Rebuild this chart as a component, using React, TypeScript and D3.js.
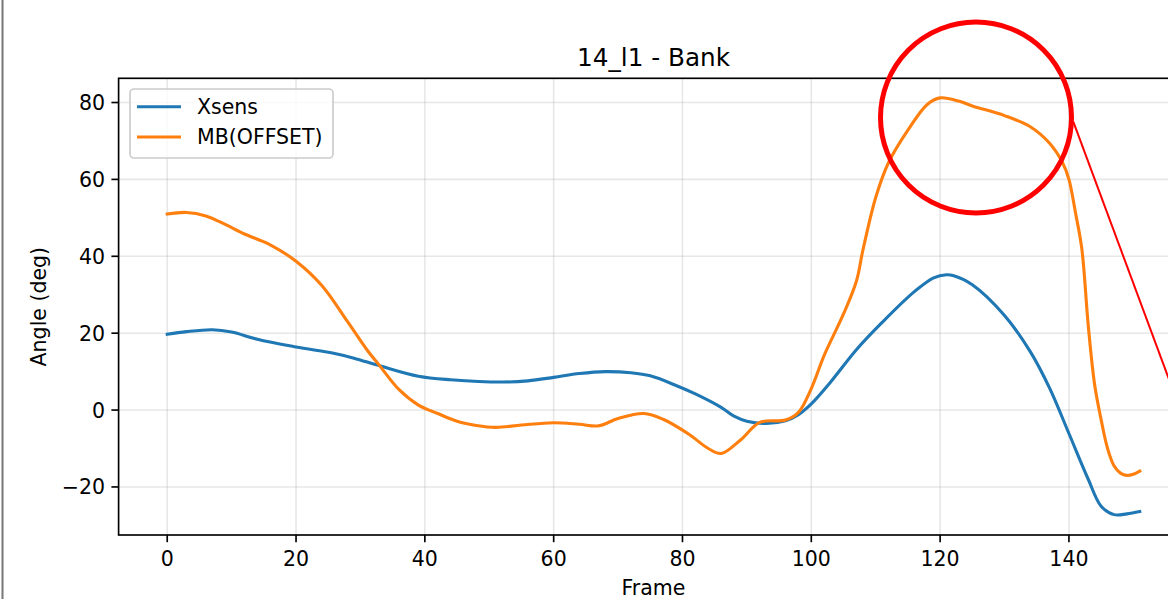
import React from "react";
import * as d3 from "d3";

const TITLE = "14_l1 - Bank";
const X_LABEL = "Frame";
const Y_LABEL = "Angle (deg)";
const SERIES_NAMES = ["Xsens", "MB(OFFSET)"];
const COLORS = ["#1f77b4", "#ff7f0e"];
const X_TICKS = [0, 20, 40, 60, 80, 100, 120, 140];
const Y_TICKS = [-20, 0, 20, 40, 60, 80];

const xsensFrames = [0, 3, 7, 10, 14, 20, 26, 29, 33, 39, 44, 52, 56, 60, 64, 68, 72, 75, 79, 82, 86, 88, 90, 93, 96, 98, 100, 103, 107, 111, 116, 119, 121, 122, 125, 130, 134, 137, 140, 143, 145, 147, 149, 151];
const xsensValues = [19.7, 20.4, 20.9, 20.3, 18.4, 16.4, 14.7, 13.5, 11.5, 8.8, 7.9, 7.3, 7.6, 8.5, 9.5, 10.0, 9.7, 8.9, 6.4, 4.2, 0.7, -1.6, -2.9, -3.5, -2.8, -1.2, 1.6, 7.3, 15.7, 22.8, 30.8, 34.4, 35.2, 35.0, 32.6, 24.6, 15.2, 5.7, -6.1, -18.0, -25.0, -27.2, -27.0, -26.4];

const mbFrames = [0, 3, 6, 9, 12, 16, 20, 24, 28, 31, 33, 36, 39, 42, 45, 48, 51, 55, 60, 64, 67, 70, 74, 77, 81, 84, 86, 89, 92, 96, 98, 100, 102, 105, 107, 108, 110, 112, 115, 118, 120, 123, 125, 130, 134, 137, 139, 140, 141, 142, 143, 144, 145, 146, 147, 148, 149, 150, 151];
const mbValues = [51.0, 51.4, 50.5, 48.3, 45.8, 43.0, 38.7, 32.4, 23.0, 15.7, 11.5, 5.3, 1.3, -0.9, -2.9, -4.0, -4.5, -3.9, -3.3, -3.7, -4.1, -2.2, -0.9, -2.4, -6.3, -10.0, -11.3, -7.8, -3.2, -2.6, -0.6, 5.6, 14.2, 25.0, 33.5, 41.5, 55.3, 64.4, 72.8, 79.5, 81.2, 80.3, 79.1, 76.6, 73.7, 69.4, 64.4, 60.0, 51.5, 42.0, 22.0, 6.5, -2.5, -10.0, -14.5, -16.4, -17.0, -16.7, -15.9];

const X_DOMAIN = [-7.55, 158.55];
const Y_DOMAIN = [-32.5, 86.3];

export default function App() {
  const W = 1168;
  const H = 599;
  const left = 118.6;
  const right = 1188.4;
  const top = 78.3;
  const bottom = 535;

  const x = d3.scaleLinear().domain(X_DOMAIN).range([left, right]);
  const y = d3.scaleLinear().domain(Y_DOMAIN).range([bottom, top]);

  const line = d3
    .line<[number, number]>()
    .x((d) => x(d[0]))
    .y((d) => y(d[1]))
    .curve(d3.curveCatmullRom.alpha(0.5));

  const series = [
    xsensFrames.map((f, i) => [f, xsensValues[i]] as [number, number]),
    mbFrames.map((f, i) => [f, mbValues[i]] as [number, number]),
  ];

  const font = "DejaVu Sans, sans-serif";
  const fs = 20.5;

  return (
    <svg
      width={W}
      height={H}
      style={{ position: "absolute", left: 0, top: 0, display: "block", background: "#fff" }}
      fontFamily={font}
    >
      <rect x={0} y={0} width={W} height={H} fill="#ffffff" />
      <defs>
        <clipPath id="plotclip">
          <rect x={left} y={top} width={right - left} height={bottom - top} />
        </clipPath>
      </defs>

      {/* grid */}
      <g stroke="#b0b0b0" strokeOpacity={0.3} strokeWidth={1.6}>
        {X_TICKS.map((t) => (
          <line key={"gx" + t} x1={x(t)} x2={x(t)} y1={top} y2={bottom} />
        ))}
        {Y_TICKS.map((t) => (
          <line key={"gy" + t} x1={left} x2={right} y1={y(t)} y2={y(t)} />
        ))}
      </g>

      {/* lines */}
      <g clipPath="url(#plotclip)">
        {series.map((s, i) => (
          <path
            key={i}
            d={line(s) || ""}
            fill="none"
            stroke={COLORS[i]}
            strokeWidth={3.1}
            strokeLinejoin="round"
            strokeLinecap="square"
          />
        ))}
      </g>

      {/* spines */}
      <g stroke="#000" strokeWidth={1.65} fill="none">
        <rect x={left} y={top} width={right - left} height={bottom - top} />
      </g>

      {/* x ticks */}
      {X_TICKS.map((t) => (
        <g key={"xt" + t}>
          <line x1={x(t)} x2={x(t)} y1={bottom} y2={bottom + 7.2} stroke="#000" strokeWidth={1.65} />
          <text x={x(t)} y={566} fontSize={fs} textAnchor="middle" fill="#000">
            {t}
          </text>
        </g>
      ))}

      {/* y ticks */}
      {Y_TICKS.map((t) => (
        <g key={"yt" + t}>
          <line x1={left - 7.2} x2={left} y1={y(t)} y2={y(t)} stroke="#000" strokeWidth={1.65} />
          <text x={105} y={y(t) + 7.5} fontSize={fs} textAnchor="end" fill="#000">
            {t < 0 ? "\u2212" + Math.abs(t) : t}
          </text>
        </g>
      ))}

      {/* labels */}
      <text x={(left + right) / 2} y={66} fontSize={24.7} textAnchor="middle" fill="#000">
        {TITLE}
      </text>
      <text x={(left + right) / 2} y={595} fontSize={fs} textAnchor="middle" fill="#000">
        {X_LABEL}
      </text>
      <text
        transform={`translate(46, ${(top + bottom) / 2}) rotate(-90)`}
        fontSize={fs}
        textAnchor="middle"
        fill="#000"
      >
        {Y_LABEL}
      </text>

      {/* legend */}
      <g>
        <rect x={130} y={89} width={203} height={69} rx={4} ry={4} fill="#fff" fillOpacity={0.8} stroke="#cccccc" strokeWidth={1.65} />
        {SERIES_NAMES.map((name, i) => (
          <g key={name}>
            <line x1={137} x2={181} y1={106.7 + i * 30.3} y2={106.7 + i * 30.3} stroke={COLORS[i]} strokeWidth={3.1} />
            <text x={197} y={113.5 + i * 30.3} fontSize={fs} fill="#000">
              {name}
            </text>
          </g>
        ))}
      </g>

      {/* annotations */}
      <circle cx={976} cy={117.5} r={95.5} fill="none" stroke="#ff0000" strokeWidth={5} />
      <line x1={1073.3} y1={121.7} x2={1180} y2={408.8} stroke="#ff0000" strokeWidth={2} />

      {/* left border */}
      <rect x={1.5} y={0} width={2} height={H} fill="#777777" />
    </svg>
  );
}
